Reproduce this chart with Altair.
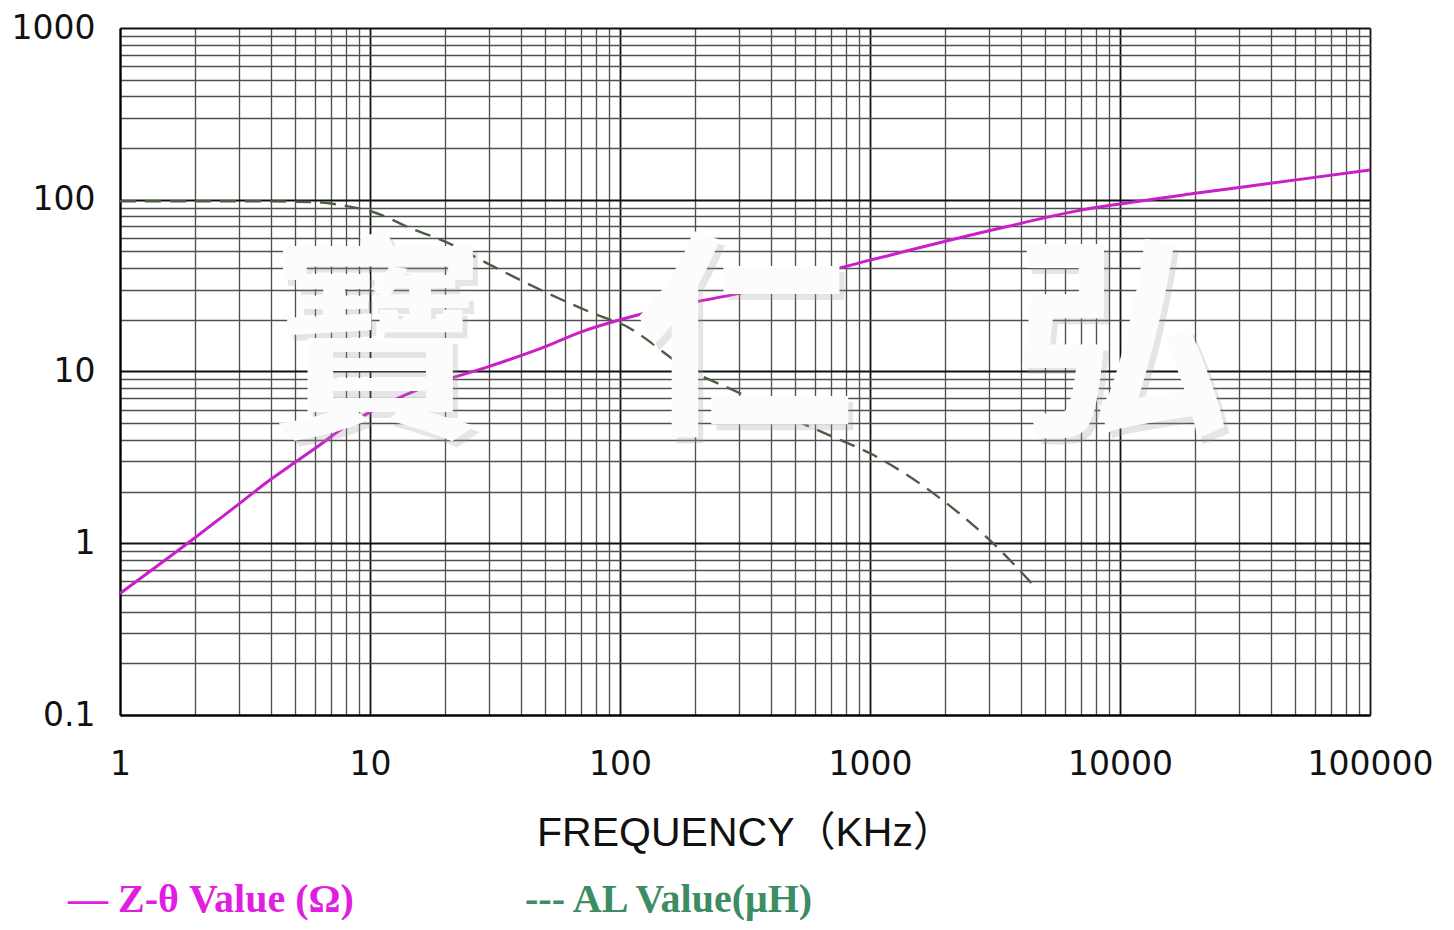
import altair as alt
import pandas as pd

# ---- data ----
z_freq = [1, 2, 3, 4, 5, 6, 8, 10, 16, 30, 50, 70, 100, 175, 300, 1000, 3300, 7000, 10000, 20000, 40000, 100000]
z_val = [0.51, 1.08, 1.7, 2.35, 2.95, 3.55, 4.8, 5.8, 7.98, 10.7, 13.9, 17.0, 20.0, 24.4, 28.5, 44.5, 68.2, 87.0, 94.5, 109, 124.7, 149]

al_freq = [1, 3, 6, 8, 10, 15, 20, 30, 50, 85, 100, 190, 300, 437, 700, 1000, 2023, 3000, 4560]
al_val = [98, 98, 97, 92, 86, 67, 57, 42, 29.1, 20.8, 19.1, 10.2, 7.5, 5.71, 4.2, 3.34, 1.71, 1.05, 0.559]

x_grid = [round(d * 10 ** k, 6) for k in range(0, 5) for d in range(1, 10)] + [100000]
y_grid = [round(d * 10 ** k, 6) for k in range(-1, 3) for d in range(1, 10)] + [1000]

x_title = "FREQUENCY（KHz）"
legend_z = "— Z-θ Value (Ω)"
legend_al = "--- AL Value(μH)"
watermark = ["寶", "仁", "弘"]

df_z = pd.DataFrame({"freq": z_freq, "val": z_val})
df_al = pd.DataFrame({"freq": al_freq, "val": al_val})
one = pd.DataFrame({"a": [0]})

major_test = "abs(log(datum.value)/LN10 - round(log(datum.value)/LN10)) < 0.001"
grid_color = {"condition": {"test": major_test, "value": "#111111"}, "value": "#505050"}
grid_width = {"condition": {"test": major_test, "value": 1.8}, "value": 1.35}

x_enc = alt.X(
    "freq:Q",
    scale=alt.Scale(type="log", domain=[1, 100000], nice=False),
    axis=alt.Axis(
        values=x_grid,
        labelExpr=f"({major_test}) ? format(datum.value, '~g') : ''",
        labelOverlap=False,
        labelFlush=False,
        ticks=False,
        grid=True,
        gridColor=grid_color,
        gridWidth=grid_width,
        domainColor="#000000",
        domainWidth=2,
        labelFont="DejaVu Sans",
        labelFontSize=33,
        labelColor="#111111",
        labelPadding=33,
        title=x_title,
        titleFont="Liberation Sans, Noto Sans CJK SC",
        titleFontSize=41,
        titleFontWeight="normal",
        titleColor="#111111",
        titleX=625,
        titleY=130,
        titleAlign="center",
        titleBaseline="alphabetic",
    ),
)

y_enc = alt.Y(
    "val:Q",
    scale=alt.Scale(type="log", domain=[0.1, 1000], nice=False),
    axis=alt.Axis(
        values=y_grid,
        labelExpr=f"({major_test}) ? format(datum.value, '~g') : ''",
        labelOverlap=False,
        labelFlush=False,
        ticks=False,
        grid=True,
        gridColor=grid_color,
        gridWidth=grid_width,
        domainColor="#000000",
        domainWidth=2,
        labelFont="DejaVu Sans",
        labelFontSize=33,
        labelColor="#111111",
        labelPadding=25,
        labelAlign="right",
        labelBaseline="middle",
        title=None,
    ),
)

z_line = alt.Chart(df_z).mark_line(
    color="#cc1ec8", strokeWidth=3, interpolate="monotone"
).encode(x=x_enc, y=y_enc)
al_line = alt.Chart(df_al).mark_line(
    color="#4a5e44", strokeWidth=2.4, strokeDash=[16, 9], interpolate="monotone"
).encode(x=x_enc, y=y_enc)

wm_pos = [(258, 327), (625, 324), (1000, 327)]
wm_layers = []
for ch, (px, py) in zip(watermark, wm_pos):
    shadow = alt.Chart(one).mark_text(
        font="Noto Sans CJK TC", fontSize=220, fontWeight="bold", color="#9a9a9a",
        opacity=0.25, dx=5, dy=6
    ).encode(x=alt.value(px), y=alt.value(py), text=alt.value(ch))
    front = alt.Chart(one).mark_text(
        font="Noto Sans CJK TC", fontSize=220, fontWeight="bold", color="#fcfcfc"
    ).encode(x=alt.value(px), y=alt.value(py), text=alt.value(ch))
    wm_layers += [shadow, front]

leg_z = alt.Chart(one).mark_text(
    font="Liberation Serif", fontSize=40, fontWeight="bold", color="#e01ee0",
    align="left", baseline="alphabetic"
).encode(x=alt.value(-52), y=alt.value(884), text=alt.value(legend_z))

leg_al = alt.Chart(one).mark_text(
    font="Liberation Serif", fontSize=40, fontWeight="bold", color="#3c8c64",
    align="left", baseline="alphabetic"
).encode(x=alt.value(405), y=alt.value(884), text=alt.value(legend_al))

chart = alt.layer(z_line, al_line, *wm_layers, leg_z, leg_al).properties(
    width=1250,
    height=687,
    autosize=alt.AutoSizeParams(type="none"),
    padding={"left": 112, "top": 20, "right": 76, "bottom": 207},
    background="white",
).configure_view(stroke=None)

chart.save("out.html", embed_options={"renderer": "svg", "actions": False})
